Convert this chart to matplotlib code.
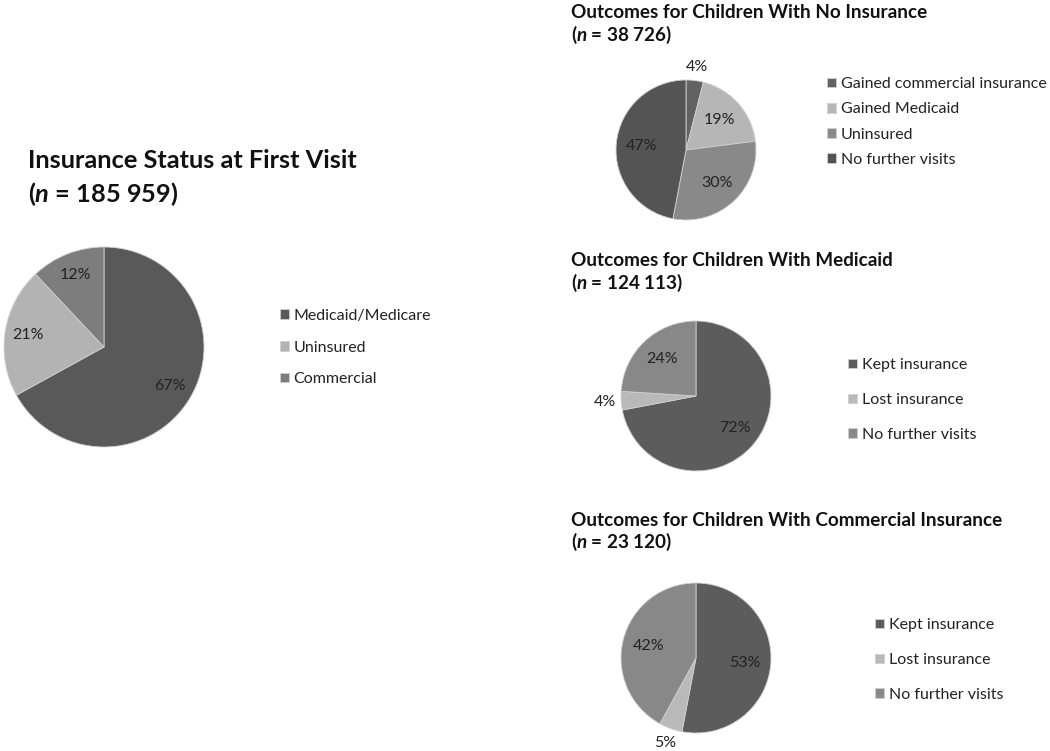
import matplotlib
matplotlib.use("Agg")
import matplotlib.pyplot as plt

plt.rcParams['font.family'] = ['Lato', 'DejaVu Sans']
plt.rcParams['mathtext.fontset'] = 'custom'
plt.rcParams['mathtext.it'] = 'Lato:italic:bold'
plt.rcParams['mathtext.rm'] = 'Lato:bold'

W, H = 1050, 751

# ---- data ----
main_title = "Insurance Status at First Visit"
main_n = "185 959"
main_labels = ["Medicaid/Medicare", "Uninsured", "Commercial"]
main_values = [67, 21, 12]

noins_title = "Outcomes for Children With No Insurance"
noins_n = "38 726"
noins_labels = ["Gained commercial insurance", "Gained Medicaid", "Uninsured", "No further visits"]
noins_values = [4, 19, 30, 47]

medicaid_title = "Outcomes for Children With Medicaid"
medicaid_n = "124 113"
medicaid_labels = ["Kept insurance", "Lost insurance", "No further visits"]
medicaid_values = [72, 4, 24]

comm_title = "Outcomes for Children With Commercial Insurance"
comm_n = "23 120"
comm_labels = ["Kept insurance", "Lost insurance", "No further visits"]
comm_values = [53, 5, 42]

# ---- styles ----
main_colors = ["#595959", "#b3b3b3", "#7d7d7d"]
noins_colors = ["#626262", "#b6b6b6", "#898989", "#545454"]
out_colors = ["#5c5c5c", "#b9b9b9", "#888888"]

fig = plt.figure(figsize=(W / 100, H / 100), dpi=100)
fig.patch.set_facecolor("white")


def fx(x):
    return x / W


def fy(y):
    return 1 - y / H


def draw_pie(values, labels, colors, cx, cy, r, pin, pout, label_fs,
             leg_x, leg_y, leg_fs, leg_spacing):
    ax = fig.add_axes([fx(cx - r), fy(cy + r), 2 * r / W, 2 * r / H])
    wedges, _, autotexts = ax.pie(values, colors=colors, startangle=90, counterclock=False,
                                  radius=1, autopct=lambda p: f"{p:.0f}%", pctdistance=pin,
                                  wedgeprops=dict(linewidth=0.6, edgecolor="#d0d0d0"),
                                  textprops=dict(fontsize=label_fs, color="#222222"))
    total = float(sum(values))
    for v, t in zip(values, autotexts):
        if v / total <= 0.05:
            x, y = t.get_position()
            s = pout / pin
            t.set_position((x * s, y * s))
    ax.set_xlim(-1, 1)
    ax.set_ylim(-1, 1)
    ax.axis("off")
    fig.legend(wedges, labels, loc="center left", bbox_to_anchor=(fx(leg_x), fy(leg_y)),
               frameon=False, fontsize=leg_fs, handlelength=0.55, handleheight=0.55,
               handletextpad=0.3, labelspacing=leg_spacing, borderpad=0, borderaxespad=0,
               labelcolor="#222222")
    return ax


def title(text, n, x, y1, y2, fs):
    fig.text(fx(x), fy(y1), text, fontsize=fs, fontweight="bold", va="center", ha="left",
             color="#111111")
    fig.text(fx(x), fy(y2), "($n$ = " + n + ")", fontsize=fs, fontweight="bold",
             va="center", ha="left", color="#111111")


LFS = 11.5

# main pie
title(main_title, main_n, 28, 160, 194, 18.3)
draw_pie(main_values, main_labels, main_colors, 104, 347, 100, 0.77, 1.2, LFS,
         280, 347.5, LFS, 1.1)

# no insurance
title(noins_title, noins_n, 571, 13, 35, 13.6)
draw_pie(noins_values, noins_labels, noins_colors, 686, 150, 70, 0.64, 1.19, LFS,
         827, 122, LFS, 0.7)

# medicaid
title(medicaid_title, medicaid_n, 571, 260, 283, 13.6)
draw_pie(medicaid_values, medicaid_labels, out_colors, 696, 396, 75, 0.67, 1.22, LFS,
         848, 400, LFS, 1.31)

# commercial
title(comm_title, comm_n, 571, 520, 542, 13.6)
draw_pie(comm_values, comm_labels, out_colors, 696, 658, 75, 0.65, 1.2, LFS,
         875, 660, LFS, 1.31)

fig.savefig("out.png", dpi=100, facecolor="white")
